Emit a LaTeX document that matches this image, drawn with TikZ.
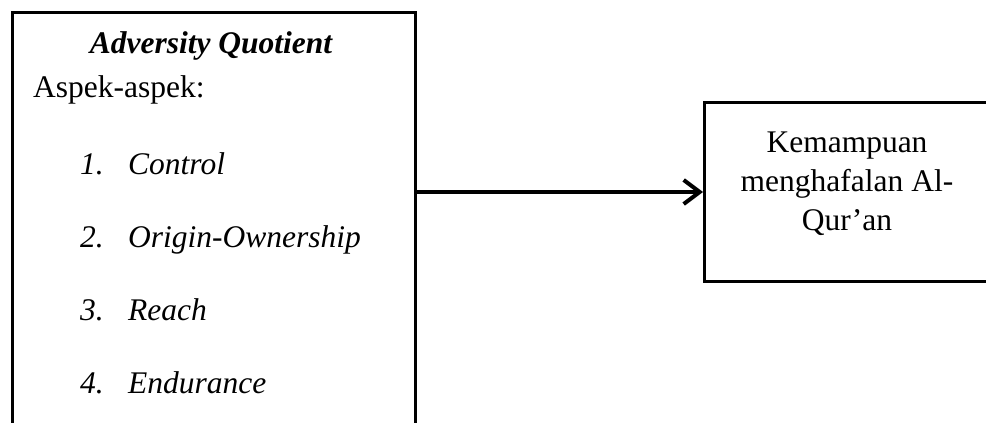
\documentclass[tikz,border=0pt]{standalone}
\usepackage{fontspec}
\setmainfont{Liberation Serif}
\usetikzlibrary{arrows.meta}
\begin{document}
\begin{tikzpicture}[x=1pt,y=-1pt,
  boxline/.style={draw=black,line width=3pt},
  txt/.style={inner sep=0pt,anchor=base west,font=\fontsize{31.5}{38}\selectfont},
  ctxt/.style={inner sep=0pt,anchor=base,font=\fontsize{31.5}{38}\selectfont},
  conn/.style={line width=4pt,-{Straight Barb[length=16pt,width=24pt,line width=4pt]}}]
\useasboundingbox (0,0) rectangle (986,423);
\clip (0,0) rectangle (986,423);
\node[boxline,minimum width=403pt,minimum height=448pt,inner sep=0pt] (aq) at (213.5,236) {};
\node[boxline,minimum width=320pt,minimum height=179pt,inner sep=0pt,anchor=north west] (km) at (703,101) {};
\node[ctxt,font=\fontsize{31.5}{38}\selectfont\bfseries\itshape] (title) at (211,53) {Adversity Quotient};
\node[txt] (asp) at (33,97) {Aspek-aspek:};
\node[txt] (n1) at (80,174) {\itshape 1.};
\node[txt] (t1) at (128,174) {\itshape Control};
\node[txt] (n2) at (80,247) {\itshape 2.};
\node[txt] (t2) at (128,247) {\itshape Origin-Ownership};
\node[txt] (n3) at (80,320) {\itshape 3.};
\node[txt] (t3) at (128,320) {\itshape Reach};
\node[txt] (n4) at (80,393) {\itshape 4.};
\node[txt] (t4) at (128,393) {\itshape Endurance};
\node[ctxt] (k1) at (847,152) {Kemampuan};
\node[ctxt] (k2) at (847,191) {menghafalan Al-};
\node[ctxt] (k3) at (847,230) {Qur’an};
\draw[conn] (aq.east |- km.west) -- (km.west);
\end{tikzpicture}
\end{document}
